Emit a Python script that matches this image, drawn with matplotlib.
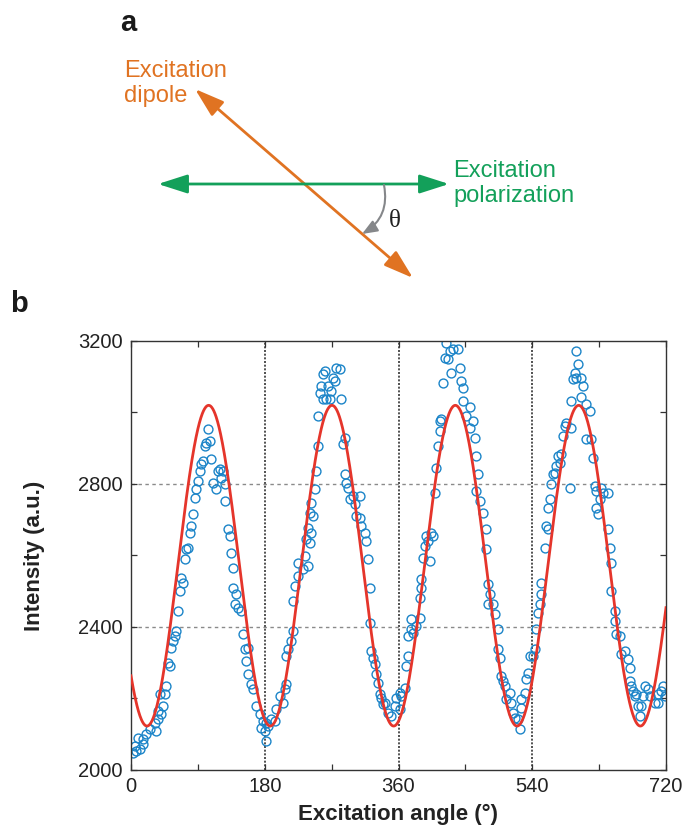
import numpy as np
import matplotlib
matplotlib.use("Agg")
import matplotlib.pyplot as plt

plt.rcParams['font.family'] = ['Liberation Sans', 'DejaVu Sans']

# ---------------- data ----------------
ANGLES = [
    2.7, 7.2, 11.7, 5.0, 9.4, 16.1, 16.1, 20.6, 25.1, 34.1, 31.8, 36.3, 40.8, 36.3, 43.1, 38.6,
    45.3, 47.5, 49.8, 52.0, 54.3, 56.5, 58.8, 61.0, 63.3, 65.5, 70.0, 67.7, 72.2, 76.7, 74.5, 79.0,
    81.2, 83.4, 85.7, 87.9, 90.2, 92.4, 94.7, 96.9, 99.1, 101.4, 105.9, 103.6, 108.1, 110.4, 114.8,
    117.1, 119.3,
    123.8, 121.6, 126.1, 126.1, 130.6, 132.8, 135.0, 137.3, 137.3, 141.8, 139.5, 144.0, 148.5,
    150.7, 153.0, 157.5, 155.2, 157.5, 162.0, 164.2, 168.7, 173.2, 177.7, 182.2, 175.4, 179.9,
    182.2, 184.4, 188.9, 193.4, 195.6, 200.1, 204.6, 206.8, 209.1, 209.1, 211.3, 215.8, 218.0,
    218.0, 220.3, 224.8, 224.8, 231.5, 233.7, 236.0, 238.2, 240.5, 242.7,
    238.2, 240.4, 242.7, 244.9, 247.2, 249.4, 251.7, 251.7, 253.9, 256.1, 258.4, 260.6, 262.9,
    258.4, 265.1, 269.6, 267.4, 271.9, 274.1, 276.3, 280.8, 283.1, 285.3, 287.6, 287.6, 289.8,
    292.0, 294.3, 298.8, 301.0, 303.2, 307.7, 307.7, 310.0, 314.5, 316.7, 319.0, 321.2, 321.2,
    323.5, 325.7, 327.9, 330.2, 332.4, 334.7, 336.9, 339.2, 341.4, 345.9, 350.4, 354.8, 357.1,
    361.6,
    361.6, 363.9, 368.4, 370.6, 372.9, 372.9, 377.3, 379.6, 377.3, 384.1, 388.6, 388.6, 390.8,
    390.8, 393.1, 395.3, 397.5, 399.8, 402.0, 404.3, 406.5, 408.7, 411.0, 413.2, 415.5, 415.5,
    417.7, 420.0, 422.2, 424.4, 426.7, 428.9, 431.2, 433.4, 440.1, 442.4, 444.6, 446.9, 446.9,
    451.4, 455.9, 455.9, 460.3, 462.6, 464.8, 467.1, 464.8, 469.3, 473.8, 478.3, 478.3,
    480.5, 482.8, 480.5,
    487.2, 489.5, 494.0, 494.0, 496.2, 498.4, 500.7, 502.9, 505.2, 509.6, 511.9, 514.1, 516.4,
    520.9, 523.1, 525.3, 525.3, 529.8, 532.1, 534.3, 536.6, 541.0, 543.3, 545.5, 547.8, 550.0,
    552.3, 552.3, 556.8, 559.0, 561.2, 561.2, 563.5, 565.7, 568.0, 570.2, 572.4, 574.7, 576.9,
    579.2, 581.4, 583.7, 585.9, 590.4, 592.6, 592.6, 594.9, 597.1, 599.3, 601.6, 599.3,
    606.1, 608.3, 606.1, 612.8, 617.3, 612.8, 619.5, 621.8, 624.0, 626.3, 633.0, 635.2, 630.8,
    626.3, 628.5, 642.0, 642.0, 644.2, 646.5, 646.5, 650.9, 650.9, 653.2, 657.7, 659.9, 664.4,
    668.9, 671.1, 671.1, 673.4, 675.6, 677.9, 680.1, 682.3, 686.8, 691.3, 689.1, 695.8, 698.0,
    704.8, 709.3, 713.7, 716.0, 718.2, 709.3, 684.6,
]
INTENSITY = [
    2048, 2053, 2058, 2067, 2090, 2072, 2086, 2100, 2114, 2109, 2132, 2142, 2156, 2165, 2179, 2212,
    2212, 2235, 2300, 2291, 2342, 2361, 2375, 2389, 2445, 2501, 2524, 2538, 2589, 2622, 2617, 2664,
    2683, 2715, 2762, 2785, 2808, 2836, 2855, 2864, 2906, 2916, 2920, 2953, 2869, 2804, 2785,
    2836, 2841,
    2836, 2818, 2799, 2752, 2673, 2655, 2608, 2566, 2510, 2491, 2463, 2454, 2445,
    2380, 2338, 2342, 2305, 2268, 2240, 2226, 2179, 2156, 2137, 2132, 2118, 2109,
    2081, 2123, 2142, 2137, 2170, 2207, 2188, 2226, 2240, 2319, 2338, 2361, 2389,
    2473, 2515, 2543, 2580, 2561, 2599, 2645, 2678, 2720, 2748,
    2571, 2636, 2664, 2711, 2785, 2836, 2906, 2990, 3055, 3074, 3107, 3116, 3037,
    3037, 3074, 3060, 3037, 3097, 3088, 3125, 3121, 3037, 2911, 2930, 2827, 2804,
    2790, 2757, 2766, 2743, 2711, 2766, 2706, 2683, 2664, 2641, 2589, 2510, 2412,
    2333, 2314, 2296, 2268, 2244, 2212, 2202, 2184, 2188, 2160, 2151, 2179, 2202,
    2216,
    2170, 2207, 2230, 2291, 2319, 2375, 2394, 2384, 2422, 2403, 2426, 2482, 2510,
    2533, 2594, 2627, 2655, 2641, 2585, 2664, 2655, 2776, 2846, 2906, 2948, 2976,
    2981, 3083, 3153, 3195, 3149, 3172, 3111, 3177, 3177, 3125, 3088, 3069, 3032,
    2990, 3014, 2958, 2976, 2930, 2878, 2827, 2780, 2752, 2720, 2673, 2617,
    2519, 2491, 2463,
    2463, 2436, 2394, 2338, 2314, 2263, 2249, 2235, 2198, 2216, 2188, 2160, 2146,
    2142, 2114, 2174, 2198, 2216, 2254, 2272, 2319, 2319, 2338, 2394, 2440, 2463,
    2491, 2524, 2622, 2683, 2673, 2734, 2757, 2799, 2827, 2832, 2850, 2878, 2860,
    2883, 2934, 2962, 2972, 2790, 2958, 3032, 3093, 3111, 3097, 3135, 3172,
    3097, 3074, 3042, 3023, 3004, 2925, 2925, 2874, 2794, 2780, 2790, 2776, 2757,
    2734, 2715, 2776, 2673, 2622, 2580, 2501, 2445, 2417, 2380, 2375, 2324, 2333,
    2310, 2286, 2249, 2235, 2221, 2207, 2212, 2179, 2179, 2235, 2207, 2226, 2207,
    2188, 2212, 2221, 2235, 2207, 2188, 2151,
]

# sinusoidal fit
FIT_OFFSET = 2571.5
FIT_AMP = 448.5
FIT_PERIOD = 166.0
FIT_MIN_ANGLE = 21.5

X_TICKS = [0, 180, 360, 540, 720]
X_MINOR = [90, 270, 450, 630]
Y_TICKS = [2000, 2400, 2800, 3200]
Y_MINOR = [2200, 2600, 3000]
V_GRID = [180, 360, 540]
H_GRID = [2400, 2800]

# ---------------- figure ----------------
W, H = 684, 833
fig = plt.figure(figsize=(W / 100, H / 100), dpi=100)

# panel a : schematic drawn in pixel space
ax0 = fig.add_axes([0, 0, 1, 1])
ax0.set_xlim(0, W)
ax0.set_ylim(H, 0)
ax0.axis('off')
ax0.patch.set_alpha(0)

orange = '#e07322'
green = '#13a05a'
gray = '#85878a'

ax0.annotate('', xy=(195, 89), xytext=(413, 278),
             arrowprops=dict(arrowstyle='<|-|>,head_length=1.0,head_width=0.32',
                             color=orange, lw=2.0, mutation_scale=18, shrinkA=0, shrinkB=0))
ax0.annotate('', xy=(158, 184), xytext=(449, 184),
             arrowprops=dict(arrowstyle='<|-|>,head_length=1.0,head_width=0.32',
                             color=green, lw=2.0, mutation_scale=18, shrinkA=0, shrinkB=0))
ax0.annotate('', xy=(362, 234), xytext=(384, 185),
             arrowprops=dict(arrowstyle='-|>,head_length=0.7,head_width=0.28',
                             color=gray, lw=1.5, mutation_scale=13, shrinkA=0, shrinkB=0,
                             connectionstyle='arc3,rad=-0.35'))

ax0.text(124, 60, 'Excitation\ndipole', color=orange, fontsize=17, ha='left', va='top',
         linespacing=1.15)
ax0.text(453, 160, 'Excitation\npolarization', color=green, fontsize=17, ha='left', va='top',
         linespacing=1.15)
ax0.text(395, 221, 'θ', color='#222222', fontsize=18, ha='center', va='center',
         family=['Liberation Serif', 'DejaVu Serif'])
ax0.text(120, 31, 'a', fontsize=21, fontweight='bold', ha='left', va='baseline', color='#1a1a1a')
ax0.text(10, 312, 'b', fontsize=21, fontweight='bold', ha='left', va='baseline', color='#1a1a1a')

# panel b : data
ax = fig.add_axes([131 / W, 1 - 770 / H, (666 - 131) / W, (770 - 341) / H])

for v in V_GRID:
    ax.axvline(v, color='#333333', lw=1.2, ls=(0, (1.2, 1.0)), zorder=1)
for h in H_GRID:
    ax.axhline(h, color='#8a8a8a', lw=1.0, ls=(0, (2.5, 2.5)), zorder=1)

ax.plot(ANGLES, INTENSITY, 'o', ms=6.4, mfc='none', mec='#1b84c8', mew=1.0, zorder=2)

theta = np.linspace(0, 720, 1441)
fit = FIT_OFFSET - FIT_AMP * np.cos(2 * np.pi * (theta - FIT_MIN_ANGLE) / FIT_PERIOD)
ax.plot(theta, fit, color='#e5352b', lw=2.0, zorder=3)

ax.set_xlim(0, 720)
ax.set_ylim(2000, 3200)
ax.set_xticks(X_TICKS)
ax.set_xticks(X_MINOR, minor=True)
ax.set_yticks(Y_TICKS)
ax.set_yticks(Y_MINOR, minor=True)
ax.tick_params(which='both', direction='in', top=True, right=True, length=4.5,
               width=0.9, color='#333333', labelsize=14.5, labelcolor='#222222')
ax.tick_params(axis='y', pad=6)
ax.tick_params(axis='x', pad=5)
for s in ax.spines.values():
    s.set_color('#333333')
    s.set_linewidth(1.0)

ax.set_xlabel('Excitation angle (°)', fontsize=16, fontweight='bold', labelpad=6, color='#222222')
ax.set_ylabel('Intensity (a.u.)', fontsize=16, fontweight='bold', labelpad=24, color='#222222')

fig.savefig('out.png', dpi=100)
